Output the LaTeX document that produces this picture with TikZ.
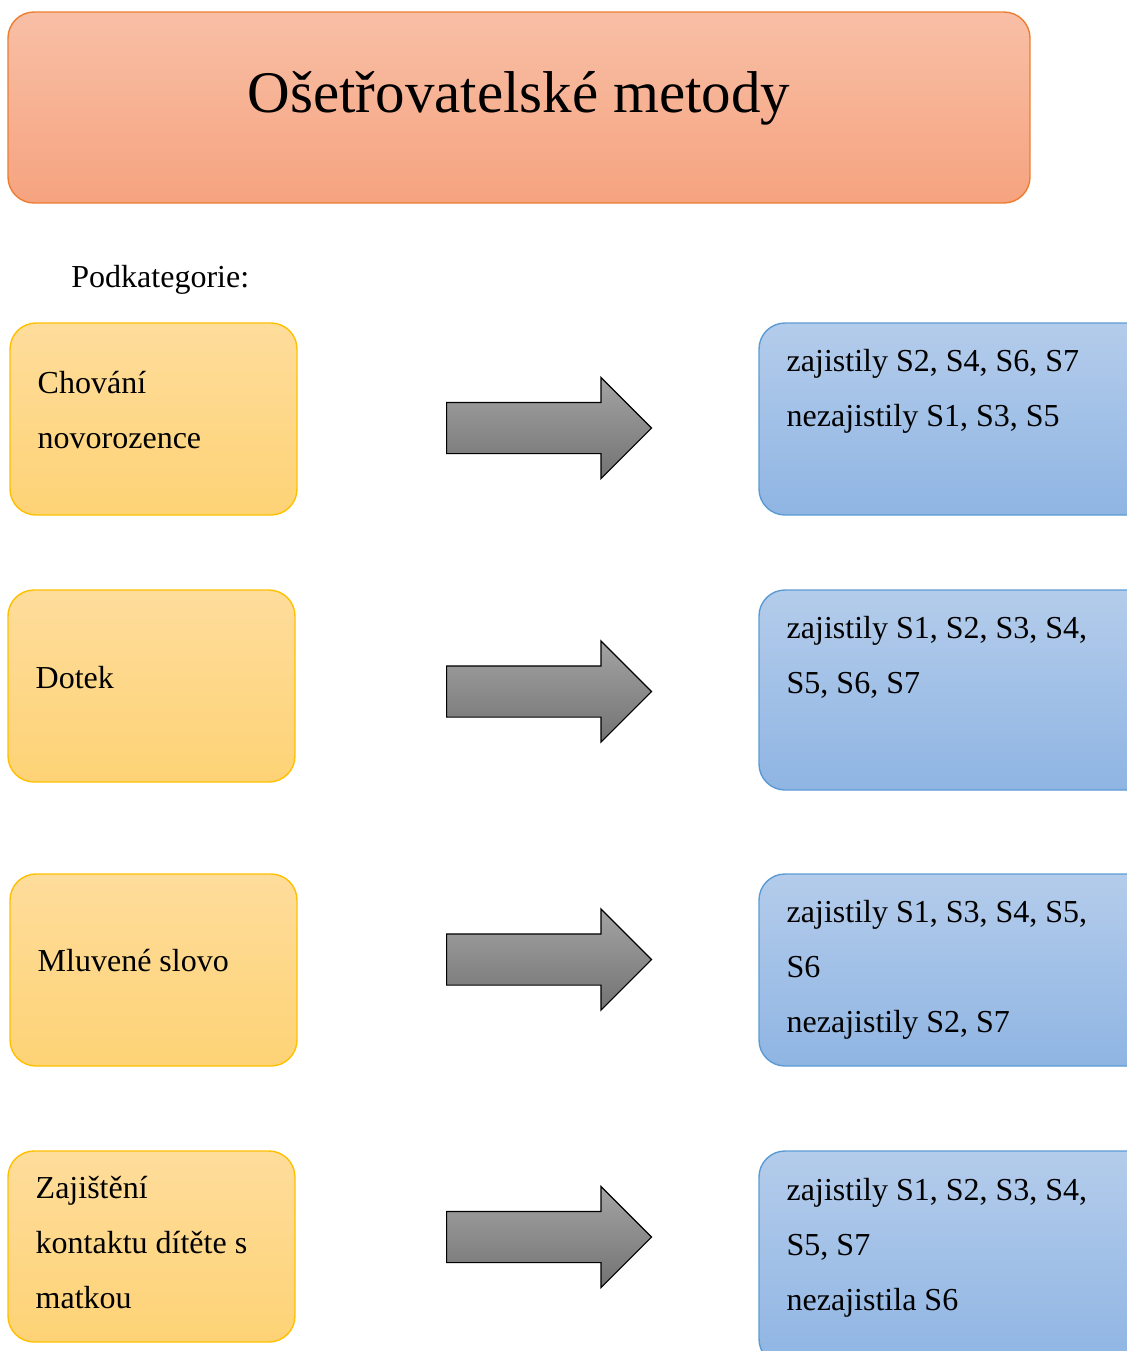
\documentclass[tikz,border=0pt]{standalone}
\usepackage{fontspec}
\setmainfont{Liberation Serif}
\usetikzlibrary{shapes.arrows, calc}
\definecolor{title-top}{RGB}{248,191,166}
\definecolor{title-bottom}{RGB}{246,163,127}
\definecolor{title-edge}{RGB}{237,125,49}
\definecolor{cat-top}{RGB}{254,220,155}
\definecolor{cat-bottom}{RGB}{254,211,118}
\definecolor{cat-edge}{RGB}{255,192,0}
\definecolor{res-top}{RGB}{180,204,235}
\definecolor{res-bottom}{RGB}{143,181,227}
\definecolor{res-edge}{RGB}{91,155,213}

\begin{document}
\begin{tikzpicture}[x=0.5pt, y=-0.5pt,
  box/.style={rounded corners=13pt, line width=0.7pt, inner sep=0pt, minimum width=143.5pt, minimum height=96pt},
  catbox/.style={box, draw=cat-edge, top color=cat-top, bottom color=cat-bottom},
  resbox/.style={box, draw=res-edge, top color=res-top, bottom color=res-bottom, minimum width=200.5pt},
  txt/.style={anchor=base west, inner sep=0pt, align=flush left, text width=180pt, font=\fontsize{16}{27.5}\selectfont},
  bigarrow/.style={single arrow, anchor=tail, draw=black, line width=0.6pt, top color=black!36, bottom color=black!55,
    inner xsep=0pt, inner ysep=12.5pt, single arrow head extend=12.5pt, single arrow tip angle=90, minimum height=102.5pt},
]
  \useasboundingbox (0,0) rectangle (1127,1351);
  \clip (0,0) rectangle (1127,1351);

  % heading
  \node[box, draw=title-edge, top color=title-top, bottom color=title-bottom, minimum width=511pt, minimum height=95.5pt] (title) at (519,107.5) {};
  \node[anchor=base, inner sep=0pt, font=\fontsize{29.5}{35}\selectfont] (titletxt) at (519,112) {Ošetřovatelské metody};
  \node[txt] (podkat) at (71,287) {Podkategorie:};

  % subcategories
  \node[catbox] (chovani) at (153.5,419) {};
  \node[catbox] (dotek) at (151.5,686) {};
  \node[catbox] (slovo) at (153.5,970) {};
  \node[catbox, minimum height=95.5pt] (kontakt) at (151.5,1246.5) {};
  \node[txt] (chovanitxt) at ($(chovani.north west)+(28,71)$) {Chování\\novorozence};
  \node[txt] (dotektxt) at ($(dotek.north west)+(28,99)$) {Dotek};
  \node[txt] (slovotxt) at ($(slovo.north west)+(28,98)$) {Mluvené slovo};
  \node[txt] (kontakttxt) at ($(kontakt.north west)+(28,48)$) {Zajištění\\kontaktu dítěte s\\matkou};

  % arrows
  \node[bigarrow] (arr1) at (446,428) {};
  \node[bigarrow] (arr2) at (446,691.5) {};
  \node[bigarrow] (arr3) at (446,959.5) {};
  \node[bigarrow] (arr4) at (446,1237) {};

  % results
  \node[resbox] (res1) at (959.5,419) {};
  \node[resbox, minimum height=100pt] (res2) at (959.5,690) {};
  \node[resbox] (res3) at (959.5,970) {};
  \node[resbox, minimum height=107pt] (res4) at (959.5,1258) {};
  \node[txt] (res1txt) at ($(res1.north west)+(28,49)$) {zajistily S2, S4, S6, S7\\nezajistily S1, S3, S5};
  \node[txt] (res2txt) at ($(res2.north west)+(28,49)$) {zajistily S1, S2, S3, S4,\\S5, S6, S7};
  \node[txt] (res3txt) at ($(res3.north west)+(28,49)$) {zajistily S1, S3, S4, S5,\\S6\\nezajistily S2, S7};
  \node[txt] (res4txt) at ($(res4.north west)+(28,50)$) {zajistily S1, S2, S3, S4,\\S5, S7\\nezajistila S6};
\end{tikzpicture}
\end{document}
